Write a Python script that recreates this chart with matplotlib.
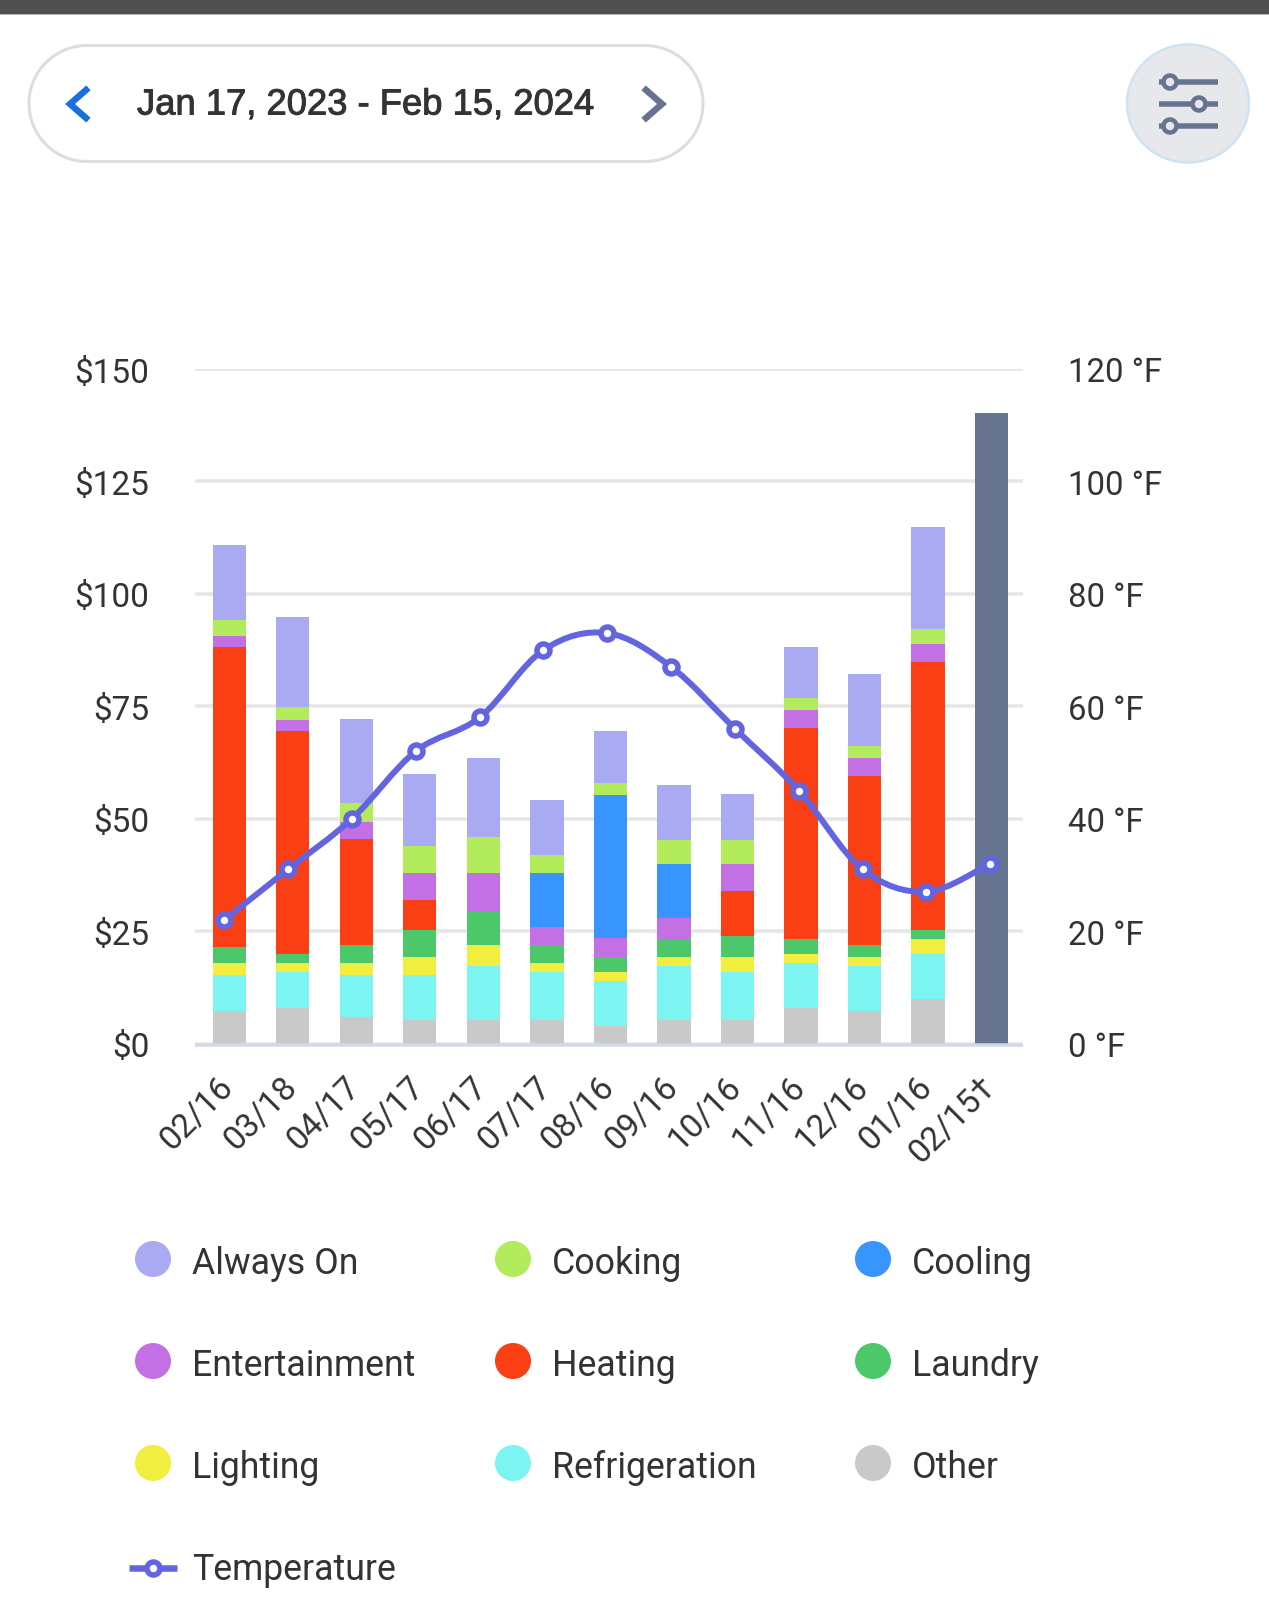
import numpy as np
import matplotlib
matplotlib.use("Agg")
import matplotlib.pyplot as plt
from matplotlib.patches import Circle, Ellipse, PathPatch, Polygon, Rectangle
from matplotlib.path import Path
from matplotlib.transforms import ScaledTranslation
import matplotlib.patheffects as pe

W, H = 1269, 1622

date_range = "Jan 17, 2023 - Feb 15, 2024"
months = ["02/16", "03/18", "04/17", "05/17", "06/17", "07/17", "08/16",
          "09/16", "10/16", "11/16", "12/16", "01/16", "02/15†"]

other = [7.2, 8.0, 5.9, 5.3, 5.3, 5.3, 4.0, 5.3, 5.3, 7.9, 7.2, 10.0, 0]
refrigeration = [8.1, 8.0, 9.4, 10.0, 12.0, 10.7, 10.0, 11.9, 10.7, 10.1, 10.0, 10.0, 0]
lighting = [2.7, 2.0, 2.7, 4.0, 4.7, 2.0, 2.0, 2.1, 3.3, 2.0, 2.1, 3.3, 0]
laundry = [3.4, 2.0, 4.0, 6.0, 7.4, 4.0, 3.3, 4.0, 4.7, 3.3, 2.7, 2.0, 0]
heating = [66.7, 49.4, 23.4, 6.7, 0, 0, 0, 0, 10.0, 46.9, 37.5, 59.5, 0]
entertainment = [2.6, 2.6, 3.9, 6.0, 8.6, 4.0, 4.1, 4.7, 6.0, 4.0, 4.0, 4.1, 0]
cooling = [0, 0, 0, 0, 0, 12.0, 31.9, 12.0, 0, 0, 0, 0, 0]
cooking = [3.4, 2.75, 4.1, 6.0, 8.0, 4.0, 2.7, 5.3, 5.3, 2.7, 2.7, 3.3, 0]
always_on = [16.8, 20.2, 18.8, 16.0, 17.4, 12.2, 11.4, 12.2, 10.1, 11.3, 16.0, 22.7, 0]
projected = [0, 0, 0, 0, 0, 0, 0, 0, 0, 0, 0, 0, 140.2]
temperature = [22, 31, 40, 52, 58, 70, 73, 67, 56, 45, 31, 27, 32]

cost_ticks = [0, 25, 50, 75, 100, 125, 150]
temp_ticks = [0, 20, 40, 60, 80, 100, 120]

stack = [("Other", other, "#c9c9c9"),
         ("Refrigeration", refrigeration, "#7cf4f2"),
         ("Lighting", lighting, "#f1ee3f"),
         ("Laundry", laundry, "#4cc86a"),
         ("Heating", heating, "#fa3f15"),
         ("Entertainment", entertainment, "#c470e5"),
         ("Cooling", cooling, "#3895fd"),
         ("Cooking", cooking, "#b2ec5c"),
         ("Always On", always_on, "#aaaaf3")]
colors = {n: c for n, _, c in stack}
TEMP = "#6264e0"
SLATE = "#66748f"
TEXT = "#333333"
FONT = "Roboto"

fig = plt.figure(figsize=(W / 100, H / 100), dpi=100, facecolor="white")
px = 0.72  # points per pixel at dpi 100


def pill(x0, x1, y0, y1):
    r = (y1 - y0) / 2
    t = np.linspace(-np.pi / 2, np.pi / 2, 60)
    xs = np.r_[x1 - r + r * np.cos(t), x0 + r - r * np.cos(t)]
    ys = np.r_[y0 + r + r * np.sin(t), y0 + r - r * np.sin(t)]
    return np.c_[xs, ys]


# page furniture in pixel coordinates
ui = fig.add_axes([0, 0, 1, 1])
ui.set_xlim(0, W)
ui.set_ylim(H, 0)
ui.axis("off")
ui.add_patch(Rectangle((0, 0), W, 14, fc="#505050", ec="none"))
ui.add_patch(Rectangle((0, 14), W, 1, fc="#b5b5b5", ec="none"))
ui.add_patch(Polygon(pill(29, 703, 45.5, 161.5), closed=True, fc="white", ec="#dddddd", lw=3 * px))
ui.text(137, 105, date_range, family="Liberation Sans", fontsize=26.2, color=TEXT,
        ha="left", va="center",
        path_effects=[pe.withStroke(linewidth=0.7, foreground=TEXT)])
ui.plot([86, 70, 86], [90, 104, 118], color="#1a6fe0", lw=6.5 * px, solid_joinstyle="miter")
ui.plot([646, 662, 646], [90, 104, 118], color=SLATE, lw=6.5 * px, solid_joinstyle="miter")
ui.add_patch(Ellipse((1188, 103.5), 122, 118, fc="#e6e8ec", ec="#cfe3f2", lw=2.5 * px))
for yy, kx in zip([82, 104, 126], [1170, 1199, 1170]):
    ui.plot([1159, 1218], [yy, yy], color=SLATE, lw=5.5 * px, solid_capstyle="butt")
    ui.add_patch(Circle((kx, yy), 6.5, fc="#e6e8ec", ec=SLATE, lw=4.5 * px, zorder=3))

# legend (row-first grid as in the page)
leg_rows = [["Always On", "Cooking", "Cooling"],
            ["Entertainment", "Heating", "Laundry"],
            ["Lighting", "Refrigeration", "Other"]]
col_cx = [153, 513, 873]
col_tx = [192, 552, 912]
row_cy = [1259, 1361, 1463]
row_base = [1274, 1376, 1478]
for r, row in enumerate(leg_rows):
    for c, name in enumerate(row):
        ui.add_patch(Circle((col_cx[c], row_cy[r]), 18, fc=colors[name], ec="none"))
        ui.text(col_tx[c], row_base[r], name, family=FONT, fontsize=25.7, color=TEXT,
                ha="left", va="baseline")
ui.plot([129, 177], [1568, 1568], color=TEMP, lw=6.5 * px, solid_capstyle="butt")
ui.plot([153], [1568], marker="o", ms=13 * px, mfc="white", mec=TEMP, mew=5.5 * px)
ui.text(192, 1580, "Temperature", family=FONT, fontsize=25.7, color=TEXT, ha="left", va="baseline")

# chart
left, right, top, bottom = 195, 1023, 369, 1043.5
ax = fig.add_axes([left / W, 1 - bottom / H, (right - left) / W, (bottom - top) / H])
ax.patch.set_alpha(0)
x = np.arange(len(months))
ax.set_xlim(-0.543, 12.496)
ax.set_ylim(0, 150)
ax.set_axisbelow(True)
ax.yaxis.grid(True, color="#e6e6e9", lw=3.5 * px)
ax.xaxis.grid(False)
for s in ["top", "left", "right"]:
    ax.spines[s].set_visible(False)
ax.spines["bottom"].set_color("#d3d9ea")
ax.spines["bottom"].set_linewidth(3.5 * px)
ax.spines["bottom"].set_capstyle("butt")
ax.spines["bottom"].set_position(("outward", 1.0))

base = np.zeros(len(months))
for name, vals, col in stack:
    vals = np.array(vals, float)
    ax.bar(x, vals, 0.52, bottom=base, color=col, lw=0, label=name, zorder=2)
    base += vals
ax.bar(x, projected, 0.52, bottom=base, color=SLATE, lw=0, zorder=2)

ax.set_yticks(cost_ticks)
ax.set_yticklabels([f"${v}" for v in cost_ticks], family=FONT, fontsize=24, color=TEXT)
ax.tick_params(axis="y", length=0, pad=45.5 * px)
ax.set_xticks(x)
ax.set_xticklabels(months, family=FONT, fontsize=24, color=TEXT, rotation=45,
                   ha="right", va="top", rotation_mode="anchor")
ax.tick_params(axis="x", length=0, pad=26 * px)

ax2 = ax.twinx()
ax2.set_ylim(0, 120)
ax2.set_yticks(temp_ticks)
ax2.set_yticklabels([f"{v} °F" for v in temp_ticks], family=FONT, fontsize=23.7, color=TEXT)
ax2.tick_params(axis="y", length=0, pad=45 * px)
for s in ax2.spines.values():
    s.set_visible(False)

# small text nudges, in pixels
for lbl in ax.get_xticklabels():
    lbl.set_transform(lbl.get_transform() + ScaledTranslation(-12.5 / 100, 0, fig.dpi_scale_trans))
for lbl in ax.get_yticklabels() + ax2.get_yticklabels():
    lbl.set_transform(lbl.get_transform() + ScaledTranslation(0, -1 / 100, fig.dpi_scale_trans))

# smooth spline through the temperature readings
tx = x * 1.005 - 0.08
ty = np.array(temperature, float)
k = 0.17
verts = [(tx[0], ty[0])]
codes = [Path.MOVETO]
for i in range(len(tx) - 1):
    p0 = i - 1 if i > 0 else i
    p3 = i + 2 if i + 2 < len(tx) else i + 1
    verts += [(tx[i] + k * (tx[i + 1] - tx[p0]), ty[i] + k * (ty[i + 1] - ty[p0])),
              (tx[i + 1] - k * (tx[p3] - tx[i]), ty[i + 1] - k * (ty[p3] - ty[i])),
              (tx[i + 1], ty[i + 1])]
    codes += [Path.CURVE4] * 3
ax2.add_patch(PathPatch(Path(verts, codes), fc="none", ec=TEMP, lw=6 * px, zorder=3))
ax2.plot(tx, ty, ls="none", marker="o", ms=13 * px, mfc="white", mec=TEMP, mew=5.5 * px, zorder=4)

fig.savefig("out.png", dpi=100, facecolor="white")
